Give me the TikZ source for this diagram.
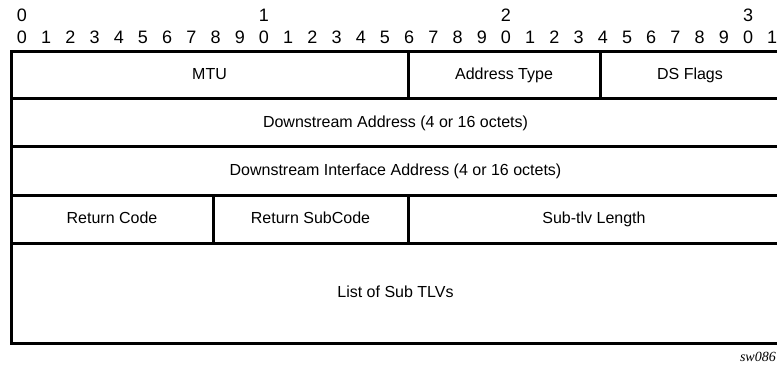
\documentclass[tikz,border=0pt]{standalone}
\usepackage{fontspec}
\setmainfont{Liberation Sans}
\newfontfamily\figfont{Liberation Serif}
\usepackage{tikz}
\usetikzlibrary{positioning}

\begin{document}
\begin{tikzpicture}[x=1pt,y=-1pt,
        field/.style={draw,line width=3pt,rectangle,inner sep=0pt,text height=1.9ex,text depth=.1ex,font=\fontsize{16}{18}\selectfont},
        bitnum/.style={inner sep=0pt,font=\fontsize{18}{20}\selectfont}]
                \useasboundingbox (0,0) rectangle (777,368);
                % bit numbers
                \foreach \b in {0,...,31} {
                    \pgfmathtruncatemacro\d{mod(\b,10)}
                    \node[bitnum] (bit_\b) at (22+24.2*\b,37.5) {\d};
                }
                \foreach \t in {0,1,2,3} {
                    \node[bitnum] (ten_\t) at (22+242*\t,15.5) {\t};
                }
                % first word
                \node[field,minimum width=397pt,minimum height=47.5pt] (mtu) at (209.5,74.75) {MTU};
                \node[field,minimum width=192pt,minimum height=47.5pt] (addr_type) at (504,74.75) {Address Type};
                \node[field,minimum width=180pt,minimum height=47.5pt] (ds_flags) at (690,74.75) {DS Flags};
                % addresses
                \node[field,minimum width=769pt,minimum height=48.2pt] (ds_addr) at (395.5,122.6) {Downstream Address (4 or 16 octets)};
                \node[field,minimum width=769pt,minimum height=48.3pt] (ds_if_addr) at (395.5,170.85) {Downstream Interface Address (4 or 16 octets)};
                % codes
                \node[field,minimum width=202pt,minimum height=48pt] (ret_code) at (112,219) {Return Code};
                \node[field,minimum width=195pt,minimum height=48pt] (ret_subcode) at (310.5,219) {Return SubCode};
                \node[field,minimum width=372pt,minimum height=48pt] (subtlv_len) at (594,219) {Sub-tlv Length};
                % sub tlvs
                \node[field,minimum width=769pt,minimum height=100pt] (sub_tlvs) at (395.5,293) {List of Sub TLVs};
                \node[anchor=east,inner sep=0pt,font=\figfont\itshape\fontsize{14}{16}\selectfont] (fig_id) at (776,357) {sw086};
\end{tikzpicture}
\end{document}
